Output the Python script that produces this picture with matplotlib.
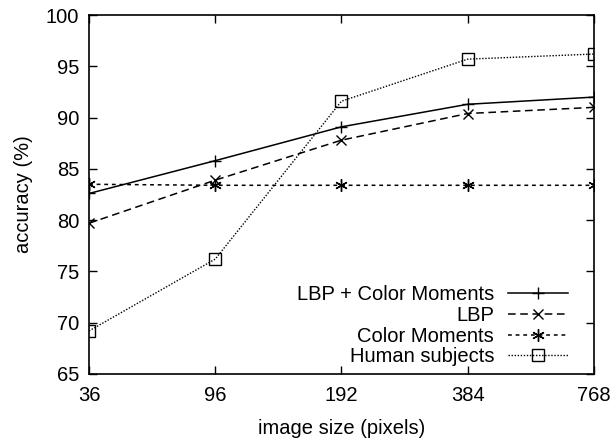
import numpy as np
import matplotlib.pyplot as plt

plt.rcParams['font.family'] = ['Liberation Sans', 'DejaVu Sans']

sizes = ['36', '96', '192', '384', '768']
lbp_cm = [82.6, 85.8, 89.1, 91.3, 92.0]
lbp = [79.7, 83.9, 87.8, 90.4, 91.0]
color_moments = [83.5, 83.4, 83.4, 83.4, 83.4]
human = [69.2, 76.2, 91.6, 95.7, 96.2]

x = np.arange(len(sizes))
fs = 14.5

fig = plt.figure(figsize=(6.12, 4.43), dpi=100)
ax = fig.add_axes([0.1454, 0.1558, 0.825, 0.8102])

ax.plot(x, lbp_cm, color='black', lw=1.1, ls='-', marker='+', ms=9, mew=1.0,
        label='LBP + Color Moments')
ax.plot(x, lbp, color='black', lw=1.1, ls=(0, (5, 3)), marker='x', ms=7, mew=1.0,
        label='LBP')
ax.plot(x, color_moments, color='black', lw=1.1, ls=(0, (2.5, 2.5)), marker=(6, 2, 0),
        ms=9, mew=1.0, label='Color Moments')
ax.plot(x, human, color='black', lw=1.0, ls=(0, (1, 1.2)), marker='s', ms=8,
        mfc='none', mew=1.0, label='Human subjects')

ax.set_xlim(0, len(sizes) - 1)
ax.set_ylim(65, 100)
ax.set_xticks(x)
ax.set_xticklabels(sizes)
ax.set_yticks(np.arange(65, 101, 5))
ax.tick_params(direction='in', length=6, width=1, top=True, right=True,
               labelsize=fs)
ax.tick_params(axis='x', pad=9)
ax.tick_params(axis='y', pad=7)
for s in ax.spines.values():
    s.set_linewidth(1.2)

ax.set_xlabel('image size (pixels)', fontsize=fs, labelpad=10)
ax.set_ylabel('accuracy (%)', fontsize=fs, labelpad=9)

leg = ax.legend(loc='lower right', frameon=False, fontsize=fs, markerfirst=False,
                handlelength=2.95, handletextpad=0.7, labelspacing=0.08,
                borderaxespad=0.2, bbox_to_anchor=(0.972, -0.012))
for t in leg.get_texts():
    t.set_ha('right')
leg._legend_box.align = 'right'

fig.savefig('out.png', dpi=100)
